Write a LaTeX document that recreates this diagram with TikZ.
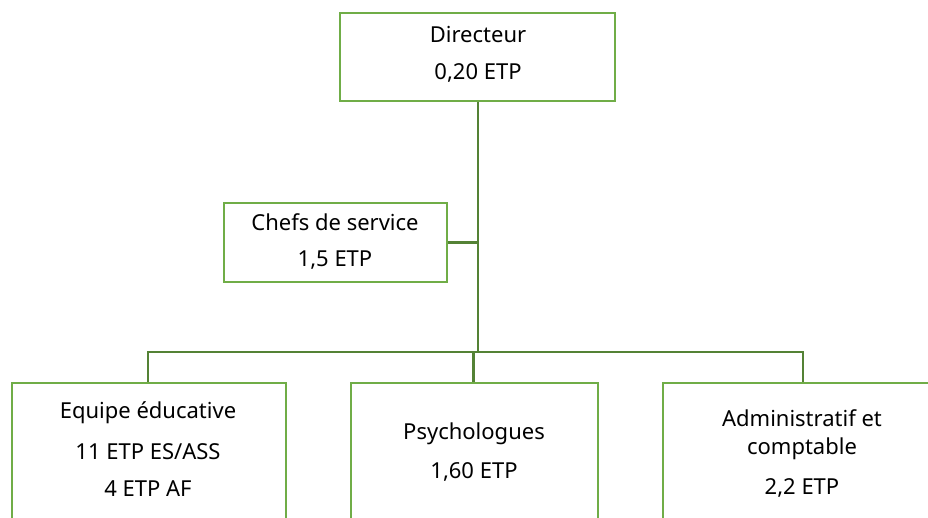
\documentclass[tikz,border=0pt]{standalone}
\usepackage{fontspec}
\setmainfont{Noto Sans}
\definecolor{boxgreen}{HTML}{70AD47}
\definecolor{linegreen}{HTML}{548235}
\begin{document}
\begin{tikzpicture}[x=1pt,y=-1pt,
  orgbox/.style={draw=boxgreen,line width=2.8pt,rectangle,inner sep=0pt},
  conn/.style={draw=linegreen,line width=2.8pt},
  lbl/.style={font=\fontsize{22}{26}\selectfont,inner sep=0pt,anchor=center}]
\useasboundingbox (0,0) rectangle (928,517);
\clip (0,0) rectangle (928,517);
% boxes
\node[orgbox,minimum width=275pt,minimum height=88pt] (dir) at (477.5,57) {};
\node[orgbox,minimum width=223pt,minimum height=79pt] (chef) at (335.5,242.5) {};
\node[orgbox,minimum width=274pt,minimum height=180pt] (equipe) at (149,473) {};
\node[orgbox,minimum width=247pt,minimum height=180pt] (psy) at (474.5,473) {};
\node[orgbox,minimum width=300pt,minimum height=180pt] (adm) at (813,473) {};
% coordinates
\coordinate (trunk) at (478,352);
\coordinate (chefj) at (478,242.5);
\coordinate (lj) at (148,352);
\coordinate (mj) at (473.5,352);
\coordinate (rj) at (803,352);
% connectors
\draw[conn] (dir.south -| trunk) -- (trunk);
\draw[conn] (chef.east) -- (chefj);
\draw[conn,line cap=rect] (lj) -- (rj);
\draw[conn] (lj) -- (lj |- equipe.north);
\draw[conn] (mj) -- (mj |- psy.north);
\draw[conn] (rj) -- (rj |- adm.north);
% labels
\node[lbl] (t1) at (478,35) {Directeur};
\node[lbl] (t2) at (478,73) {0,20 ETP};
\node[lbl] (t3) at (335,222) {Chefs de service};
\node[lbl] (t4) at (335,260) {1,5 ETP};
\node[lbl] (t5) at (148,413) {Equipe éducative};
\node[lbl] (t6) at (148,452) {11 ETP ES/ASS};
\node[lbl] (t7) at (148,489) {4 ETP AF};
\node[lbl] (t8) at (474,434) {Psychologues};
\node[lbl] (t9) at (474,472) {1,60 ETP};
\node[lbl] (t10) at (802,418) {Administratif et};
\node[lbl] (t11) at (802,449) {comptable};
\node[lbl] (t12) at (802,488) {2,2 ETP};
\end{tikzpicture}
\end{document}
